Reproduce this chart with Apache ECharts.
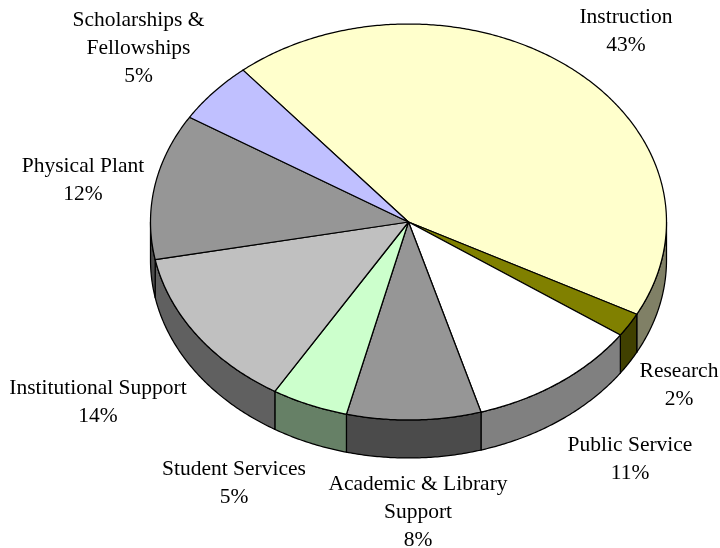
<!DOCTYPE html>
<html>
<head>
<meta charset="utf-8">
<style>html,body{margin:0;padding:0;background:#fff}#c{width:720px;height:548px}</style>
<script src="https://cdn.jsdelivr.net/npm/echarts@6/dist/echarts.min.js"></script>
</head>
<body>
<div id="c"></div>
<script>
// Data
const categories = ['Instruction','Research','Public Service','Academic & Library Support','Student Services','Institutional Support','Physical Plant','Scholarships & Fellowships'];
const percentLabels = ['43%','2%','11%','8%','5%','14%','12%','5%'];
const values = [43.8,1.95,10.8,8.4,4.8,13.3,11.9,5.05];

// Style
const topColors = ['#FFFFCC','#808000','#FFFFFF','#969696','#CCFFCC','#C0C0C0','#969696','#C0C0FF'];
const wallColors = ['#808066','#404000','#808080','#4B4B4B','#668066','#606060','#4B4B4B','#606080'];
const labelLines = [
  ['Instruction'],['Research'],['Public Service'],['Academic & Library','Support'],
  ['Student Services'],['Institutional Support'],['Physical Plant'],['Scholarships &','Fellowships']
];
const labelAnchors = [[626,3],[679,357],[630,431],[418,470],[234,455],[98,374],[83,152],[138.5,6]];
const CX = 408.5, CY = 222, RX = 258, RY = 198, DEPTH = 38, START = -39.9;
const FONT = '21.5px "Liberation Serif"', LINE = 28;

const total = values.reduce((a, b) => a + b, 0);
const edges = [START];
values.forEach(v => edges.push(edges[edges.length - 1] + v / total * 360));

function pt(deg, dy) {
  const r = deg * Math.PI / 180;
  return [CX + RX * Math.sin(r), CY - RY * Math.cos(r) + (dy || 0)];
}
function arc(a, b, dy) {
  const n = Math.max(2, Math.ceil(Math.abs(b - a) / 0.5));
  const out = [];
  for (let i = 0; i <= n; i++) out.push(pt(a + (b - a) * i / n, dy));
  return out;
}
function renderTop(params) {
  const i = params.dataIndex;
  return {
    type: 'polygon',
    shape: { points: [[CX, CY]].concat(arc(edges[i], edges[i + 1])) },
    style: { fill: topColors[i], stroke: '#000', lineWidth: 1.25, lineJoin: 'round' }
  };
}
function renderWall(params) {
  const i = params.dataIndex;
  const a = Math.max(edges[i], 90), b = Math.min(edges[i + 1], 270);
  if (b <= a) return { type: 'group', children: [] };
  return {
    type: 'polygon',
    shape: { points: arc(a, b).concat(arc(b, a, DEPTH)) },
    style: { fill: wallColors[i], stroke: '#000', lineWidth: 1.25, lineJoin: 'round' }
  };
}
const texts = categories.map((c, i) => ({
  type: 'text',
  x: labelAnchors[i][0],
  y: labelAnchors[i][1],
  style: {
    text: labelLines[i].concat(percentLabels[i]).join('\n'),
    font: FONT, lineHeight: LINE, fill: '#000', align: 'center', verticalAlign: 'top'
  }
}));
const chartData = categories.map((c, i) => ({ name: c, value: values[i] }));
const chart = echarts.init(document.getElementById('c'), null, { renderer: 'canvas' });
chart.setOption({
  animation: false,
  backgroundColor: '#fff',
  graphic: texts,
  series: [
    { type: 'custom', coordinateSystem: 'none', renderItem: renderWall, data: chartData, silent: true, z: 1 },
    { type: 'custom', coordinateSystem: 'none', renderItem: renderTop, data: chartData, silent: true, z: 2 }
  ]
});
</script>
</body>
</html>
